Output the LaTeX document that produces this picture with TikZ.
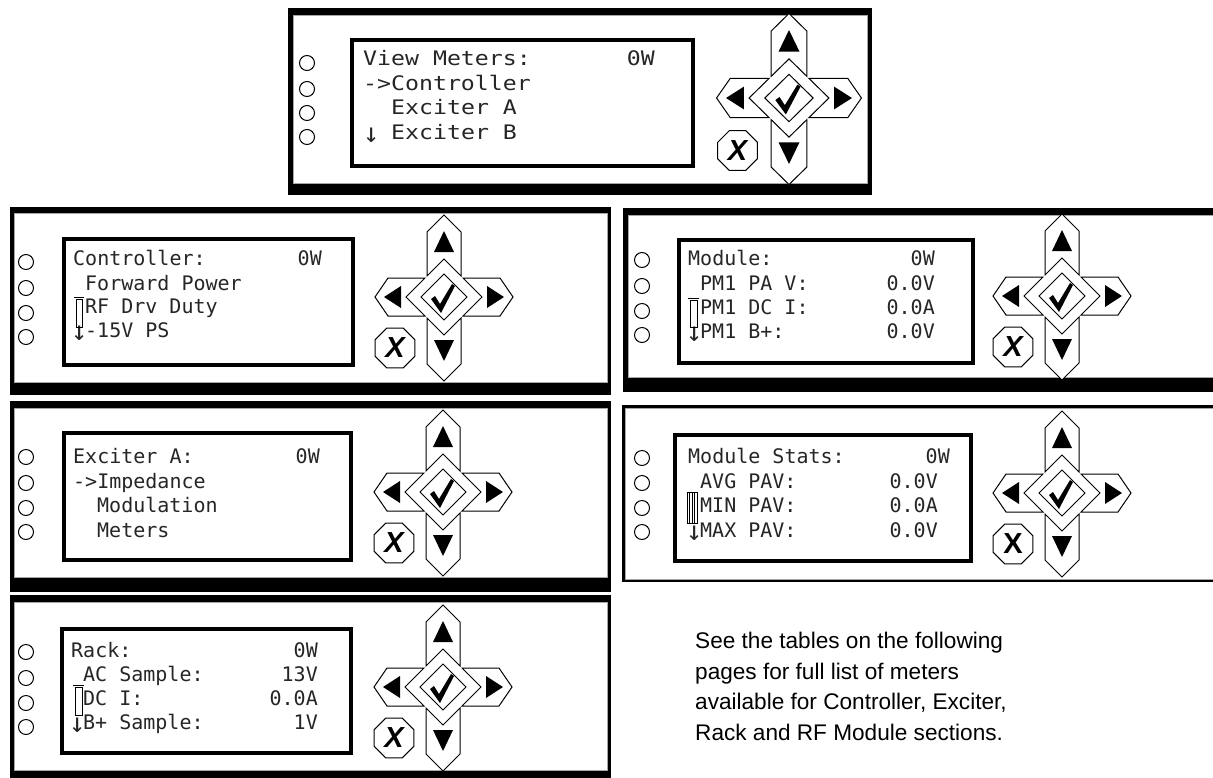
\documentclass[tikz,border=0pt]{standalone}
\usepackage{fontspec}
\setmainfont{Liberation Sans}
\newfontfamily\lcdfont{DejaVu Sans Mono}
\newfontfamily\lcdwidefont{DejaVu Sans Mono}[FakeStretch=1.16]
\usetikzlibrary{shapes.geometric}
\newcommand\xkeyfont{\fontsize{29}{29}\selectfont\bfseries}
\tikzset{
  bezel/.style={fill=black},
  face/.style={fill=white,draw=black!35,line width=0.8pt},
  lcd/.style={draw=black,line width=3.5pt},
  lamp/.style={circle,draw=black,line width=1pt,minimum size=15pt,inner sep=0pt},
  row/.style={font={\lcdfont\fontsize{20}{24}\selectfont},text=black!85,inner sep=0pt,anchor=base west},
  row wide/.style={row,font={\lcdwidefont\fontsize{20}{24}\selectfont}},
  value/.style={row,anchor=base east},
  arrowdn/.style={row,font={\lcdfont\fontsize{27}{27}\selectfont},xshift=-2pt,yshift=-3pt},
  thumb/.style={draw=black,line width=0.9pt},
  key/.style={draw=black,line width=1pt,fill=white},
  xkey/.style={key,regular polygon,regular polygon sides=8,minimum size=43pt,inner sep=0pt},
  note/.style={anchor=north west,align=left,inner sep=0pt,font={\fontsize{22.6}{30.5}\selectfont}},
  % front panel keys
  pics/keypad/.style={code={
    \draw[key] (0,-82) -- (17,-65) -- (17,-21) -- (0,-38) -- (-17,-21) -- (-17,-65) -- cycle;
    \draw[key] (0,84) -- (17,67) -- (17,21) -- (0,38) -- (-17,21) -- (-17,67) -- cycle;
    \draw[key] (-69,0) -- (-56,-19) -- (-19,-19) -- (-38,0) -- (-19,19) -- (-56,19) -- cycle;
    \draw[key] (69,0) -- (56,-19) -- (19,-19) -- (38,0) -- (19,19) -- (56,19) -- cycle;
    \draw[key] (0,-23) -- (23,0) -- (0,23) -- (-23,0) -- cycle;
    \fill (0,-66) -- (10,-45) -- (-10,-45) -- cycle;
    \fill (0,64) -- (10,43) -- (-10,43) -- cycle;
    \fill (-60,0) -- (-43,-11) -- (-43,11) -- cycle;
    \fill (60,0) -- (43,-11) -- (43,11) -- cycle;
    \fill[line join=round] (-13,2) -- (-9,-1) -- (-4,7) -- (8,-13) -- (11,-11) -- (-3,16) -- cycle;
    \node[xkey,font=\xkeyfont#1] (-x) at (-49,51) {X};
  }},
  pics/keypad/.default=\itshape,
}

\begin{document}
\begin{tikzpicture}[x=1pt,y=-1pt]
  \useasboundingbox (0,0) rectangle (1213,777);
  \clip (0,0) rectangle (1213,777);

  % View Meters
  \fill[bezel] (288,8) rectangle (872,195);
  \draw[face] (293,15) rectangle (867,183);
  \foreach \y [count=\i] in {63,89,113,137}
    \node[lamp] (v-l\i) at (307,\y) {};
  \draw[lcd] (352,40) rectangle (693,166);
  \node[row wide] (v-r1) at (363,65) {View Meters:};
  \node[row wide,anchor=base east] (v-w) at (655,65) {0W};
  \node[row wide] (v-r2) at (363,90) {->Controller};
  \node[row wide] (v-r3) at (391,114) {Exciter A};
  \node[arrowdn] (v-dn) at (365,139) {↓};
  \node[row wide] (v-r4) at (391,139) {Exciter B};
  \pic[xscale=1.05,yscale=1.03] (v-k) at (789,98) {keypad};

  % Controller
  \fill[bezel] (10,207) rectangle (611,395);
  \draw[face] (14,213) rectangle (607,382);
  \foreach \y [count=\i] in {262,288,313,337}
    \node[lamp] (c-l\i) at (26,\y) {};
  \draw[lcd] (64,239) rectangle (353,365);
  \node[row] (c-r1) at (73,265) {Controller:};
  \node[value] (c-w) at (322,265) {0W};
  \node[row] (c-r2) at (85,290) {Forward Power};
  \node[row] (c-r3) at (85,313) {RF Drv Duty};
  \node[arrowdn] (c-dn) at (73,337) {↓};
  \node[row] (c-r4) at (85,337) {-15V PS};
  \draw[thumb] (76,299) rectangle (82,327) (74,297) -- (84,297);
  \pic (c-k) at (444,297) {keypad};

  % Module
  \fill[bezel] (623,208) rectangle (1230,392);
  \draw[face] (628,215) rectangle (1225,377);
  \foreach \y [count=\i] in {260,286,311,335}
    \node[lamp] (m-l\i) at (642,\y) {};
  \draw[lcd] (679,240) rectangle (973,363);
  \node[row] (m-r1) at (688,265) {Module:};
  \node[value] (m-w) at (935,265) {0W};
  \node[row] (m-r2) at (700,290) {PM1 PA V:};
  \node[value] (m-v2) at (935,290) {0.0V};
  \node[row] (m-r3) at (700,314) {PM1 DC I:};
  \node[value] (m-v3) at (935,314) {0.0A};
  \node[arrowdn] (m-dn) at (688,338) {↓};
  \node[row] (m-r4) at (700,338) {PM1 B+:};
  \node[value] (m-v4) at (935,338) {0.0V};
  \draw[thumb] (690,300) rectangle (697,327) (688,298) -- (699,298);
  \pic (m-k) at (1062,296) {keypad};

  % Exciter A
  \fill[bezel] (10,401) rectangle (611,592);
  \draw[face] (14,408) rectangle (607,577);
  \foreach \y [count=\i] in {457,483,508,532}
    \node[lamp] (e-l\i) at (26,\y) {};
  \draw[lcd] (64,433) rectangle (351,560);
  \node[row] (e-r1) at (73,463) {Exciter A:};
  \node[value] (e-w) at (320,463) {0W};
  \node[row] (e-r2) at (73,488) {->Impedance};
  \node[row] (e-r3) at (97,512) {Modulation};
  \node[row] (e-r4) at (97,537) {Meters};
  \pic (e-k) at (443,492) {keypad};

  % Module Stats
  \fill[bezel] (622,405) rectangle (1230,582);
  \draw[face] (625,408) rectangle (1225,579);
  \foreach \y [count=\i] in {458,483,508,532}
    \node[lamp] (s-l\i) at (642,\y) {};
  \draw[lcd] (675,435) rectangle (971,561);
  \node[row] (s-r1) at (688,463) {Module Stats:};
  \node[value] (s-w) at (950,463) {0W};
  \node[row] (s-r2) at (700,488) {AVG PAV:};
  \node[value] (s-v2) at (938,488) {0.0V};
  \node[row] (s-r3) at (700,512) {MIN PAV:};
  \node[value] (s-v3) at (938,512) {0.0A};
  \node[arrowdn] (s-dn) at (688,537) {↓};
  \node[row] (s-r4) at (700,537) {MAX PAV:};
  \node[value] (s-v4) at (938,537) {0.0V};
  \draw[thumb] (687,492) rectangle (697,523);
  \foreach \x in {689.5,692,694.5} \draw[thumb,line width=0.6pt] (\x,492) -- (\x,523);
  \pic (s-k) at (1062,493) {keypad=\upshape};

  % Rack
  \fill[bezel] (10,595) rectangle (611,780);
  \draw[face] (14,602) rectangle (607,770);
  \foreach \y [count=\i] in {652,678,703,727}
    \node[lamp] (r-l\i) at (26,\y) {};
  \draw[lcd] (62,629) rectangle (351,753);
  \node[row] (r-r1) at (71,657) {Rack:};
  \node[value] (r-w) at (318,657) {0W};
  \node[row] (r-r2) at (83,681) {AC Sample:};
  \node[value] (r-v2) at (318,681) {13V};
  \node[row] (r-r3) at (83,705) {DC I:};
  \node[value] (r-v3) at (318,705) {0.0A};
  \node[arrowdn] (r-dn) at (71,729) {↓};
  \node[row] (r-r4) at (83,729) {B+ Sample:};
  \node[value] (r-v4) at (318,729) {1V};
  \draw[thumb] (75,687) rectangle (82,715) (73,685) -- (84,685);
  \pic (r-k) at (443,687) {keypad};

  \node[note] (note) at (695,632) {See the tables on the following\\pages for full list of meters\\available for Controller, Exciter,\\Rack and RF Module sections.};
\end{tikzpicture}
\end{document}
